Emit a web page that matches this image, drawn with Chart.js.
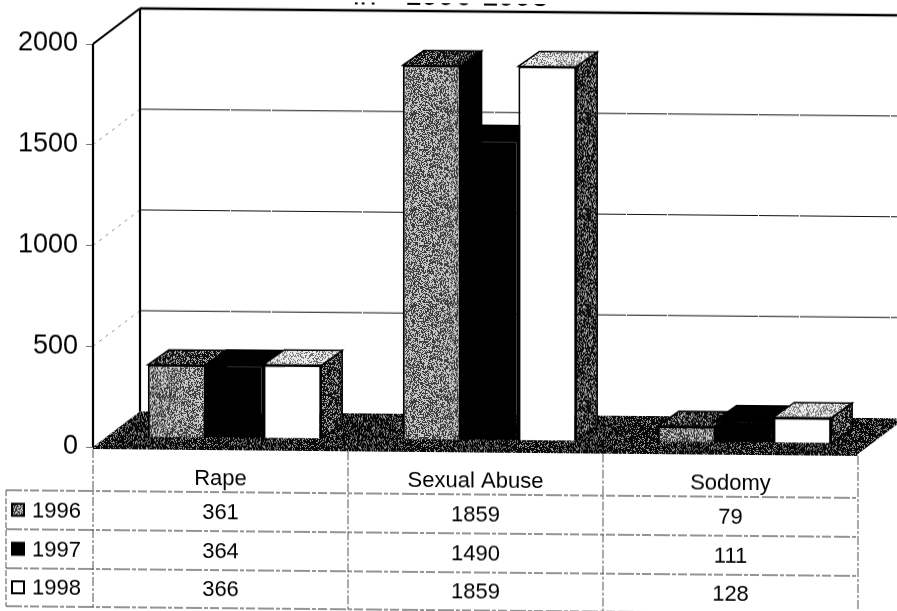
<!DOCTYPE html>
<html><head><meta charset="utf-8">
<style>
html,body{margin:0;padding:0;background:#fff;overflow:hidden}
#wrap{position:absolute;left:0;top:0;width:897px;height:611px;transform-origin:93px 0;transform:skewY(0.52deg)}
canvas{display:block}
</style>
<script src="https://cdn.jsdelivr.net/npm/chart.js@4"></script>
</head><body><div id="wrap"><canvas id="c" width="897" height="611"></canvas></div>
<script>
const categories = ['Rape', 'Sexual Abuse', 'Sodomy'];
const seriesNames = ['1996', '1997', '1998'];
const values1996 = [361, 1859, 79];
const values1997 = [364, 1490, 111];
const values1998 = [366, 1859, 128];
const titleParts = ['in', '1996-1998'];
const yTicks = [0, 500, 1000, 1500, 2000];

function hash(x, y) {
  let h = (x * 374761393 + y * 668265263) | 0;
  h = Math.imul(h ^ (h >>> 13), 1274126177);
  return ((h ^ (h >>> 16)) >>> 0) / 4294967296;
}
function tile(lightShare, base, light, seed) {
  const s = 96, t = document.createElement('canvas');
  t.width = s; t.height = s;
  const g = t.getContext('2d'), im = g.createImageData(s, s);
  for (let y = 0; y < s; y++) for (let x = 0; x < s; x++) {
    const on = hash(x + seed, y + seed * 3) < lightShare;
    const v = on ? light : base, i = (y * s + x) * 4;
    im.data[i] = im.data[i + 1] = im.data[i + 2] = v; im.data[i + 3] = 255;
  }
  g.putImageData(im, 0, 0);
  return g.createPattern(t, 'repeat');
}
const ctx0 = document.getElementById('c').getContext('2d');
const pFace96 = tile(0.5, 60, 200, 3), pTop96 = tile(0.3, 15, 170, 11), pFloor = tile(0.22, 8, 150, 17),
      pSide98 = tile(0.32, 15, 170, 23), pTop98 = tile(0.65, 110, 235, 31), BLACK = '#000000';
const faces = [pFace96, BLACK, '#ffffff'];
const tops = [pTop96, BLACK, pTop98];
const sides = [BLACK, BLACK, pSide98];

const WALL = {dx: 47, dy: -36};
const BAR_SHIFT = {dx: 14, dy: -10};
const BAR_DEPTH = {dx: 21, dy: -15};
const INK = '#2a2a2a';

function poly(c, pts, fill, stroke, lw) {
  c.beginPath();
  pts.forEach((p, i) => i ? c.lineTo(p[0], p[1]) : c.moveTo(p[0], p[1]));
  c.closePath();
  if (fill) { c.fillStyle = fill; c.fill(); }
  if (stroke) { c.strokeStyle = stroke; c.lineWidth = lw || 1; c.stroke(); }
}
function line(c, a, b, col, lw, dash) {
  c.beginPath(); c.setLineDash(dash || []); c.strokeStyle = col; c.lineWidth = lw;
  c.moveTo(a[0], a[1]); c.lineTo(b[0], b[1]); c.stroke(); c.setLineDash([]);
}
const wallsPlugin = {
  id: 'walls',
  beforeDatasetsDraw(chart) {
    const c = chart.ctx, a = chart.chartArea, y = chart.scales.y;
    const y0 = y.getPixelForValue(0), yT = y.getPixelForValue(2000);
    const bx = a.left + WALL.dx, by = WALL.dy;
    c.save();
    yTicks.slice(1, -1).forEach(v => {
      const p = y.getPixelForValue(v);
      line(c, [a.left, p], [bx, p + by], '#888', 1, [3, 5]);
      line(c, [bx, p + by], [a.right + WALL.dx, p + by], '#111', 1, [90, 1, 40, 1]);
    });
    line(c, [bx, yT + by], [a.right + WALL.dx, yT + by], '#000', 2.4);
    line(c, [a.left, yT], [bx, yT + by], '#000', 2.2);
    line(c, [bx, yT + by], [bx, y0 + by], '#000', 2.2);
    line(c, [a.left, yT], [a.left, y0], '#000', 2.2);
    poly(c, [[a.left, y0], [bx, y0 + by], [a.right + WALL.dx, y0 + by], [a.right, y0], [a.right, y0 + 2], [a.left, y0 + 2]], pFloor);
    c.translate(BAR_SHIFT.dx, BAR_SHIFT.dy);
  },
  // Bars are repainted left to right below, so the depth faces overlap in the right order.
  beforeDatasetDraw() { return false; },
  afterDatasetsDraw(chart) {
    const c = chart.ctx, d = BAR_DEPTH;
    seriesNames.forEach((_, i) => {
      const meta = chart.getDatasetMeta(i);
      meta.data.forEach(b => {
        const p = b.getProps(['x', 'y', 'base', 'width'], true);
        const r = p.x + p.width / 2, l = p.x - p.width / 2;
        poly(c, [[r, p.base], [r + d.dx, p.base + d.dy], [r + d.dx, p.y + d.dy], [r, p.y]], sides[i], BLACK, 1.5);
        poly(c, [[l, p.y], [l + d.dx, p.y + d.dy], [r + d.dx, p.y + d.dy], [r, p.y]], tops[i], BLACK, 1.5);
      });
      meta.controller.draw();
    });
    c.restore();
  }
};
const tablePlugin = {
  id: 'dataTable',
  afterDraw(chart) {
    const c = chart.ctx, a = chart.chartArea, x = chart.scales.x, y0 = chart.scales.y.getPixelForValue(0);
    const step = x.getPixelForValue(1) - x.getPixelForValue(0);
    const cols = [a.left, a.left + step, a.left + 2 * step, a.right];
    const rows = [491, 530, 569, 607], left = 6, dash = [16, 2, 4, 2, 9, 3];
    c.save();
    rows.forEach(r => line(c, [left, r], [a.right, r], INK, 1.2, dash));
    line(c, [left, rows[0]], [left, rows[3]], '#555', 1, [6, 2]);
    cols.forEach(p => line(c, [p, y0 + 2], [p, rows[3]], '#555', 1, [9, 2, 3, 2]));
    const data = [values1996, values1997, values1998];
    c.textBaseline = 'middle';
    c.font = '22px "Liberation Sans", Arial, sans-serif';
    seriesNames.forEach((n, i) => {
      const m = (rows[i] + rows[i + 1]) / 2;
      poly(c, [[12, m - 6], [24, m - 6], [24, m + 6], [12, m + 6]], faces[i], BLACK, 2);
      c.fillStyle = '#000'; c.textAlign = 'left'; c.fillText(n, 32, m + 1);
      c.textAlign = 'center';
      data[i].forEach((v, j) => c.fillText(String(v), x.getPixelForValue(j), m + 1));
    });
    c.textAlign = 'left'; c.textBaseline = 'alphabetic';
    c.font = '30px "Liberation Sans", Arial, sans-serif';
    c.fillText(titleParts[0], 353, 2);
    c.fillText(titleParts[1], 405, 2);
    c.restore();
  }
};
new Chart(ctx0, {
  type: 'bar',
  data: {
    labels: categories,
    datasets: [values1996, values1997, values1998].map((v, i) => ({
      label: seriesNames[i], data: v, clip: false,
      backgroundColor: faces[i], borderColor: BLACK, borderWidth: 2,
      categoryPercentage: 0.68, barPercentage: 1
    }))
  },
  options: {
    responsive: false, animation: false, devicePixelRatio: 1,
    layout: {padding: {top: 44, right: 39, left: 0, bottom: 0}},
    plugins: {legend: {display: false}, title: {display: false}, tooltip: {enabled: false}},
    scales: {
      x: {
        grid: {display: false}, border: {display: false},
        ticks: {color: '#000', padding: 10, font: {family: '"Liberation Sans", Arial, sans-serif', size: 22}},
        afterFit(s) { s.height = 611 - 447; }
      },
      y: {
        min: 0, max: 2000,
        grid: {drawOnChartArea: false, drawTicks: true, tickLength: 7, color: '#777'}, border: {display: false},
        ticks: {stepSize: 500, color: '#000', padding: 8, font: {family: '"Liberation Sans", Arial, sans-serif', size: 27},
          callback: v => String(v)},
        afterFit(s) { s.width = 93; }
      }
    }
  },
  plugins: [wallsPlugin, tablePlugin]
});
</script></body></html>
